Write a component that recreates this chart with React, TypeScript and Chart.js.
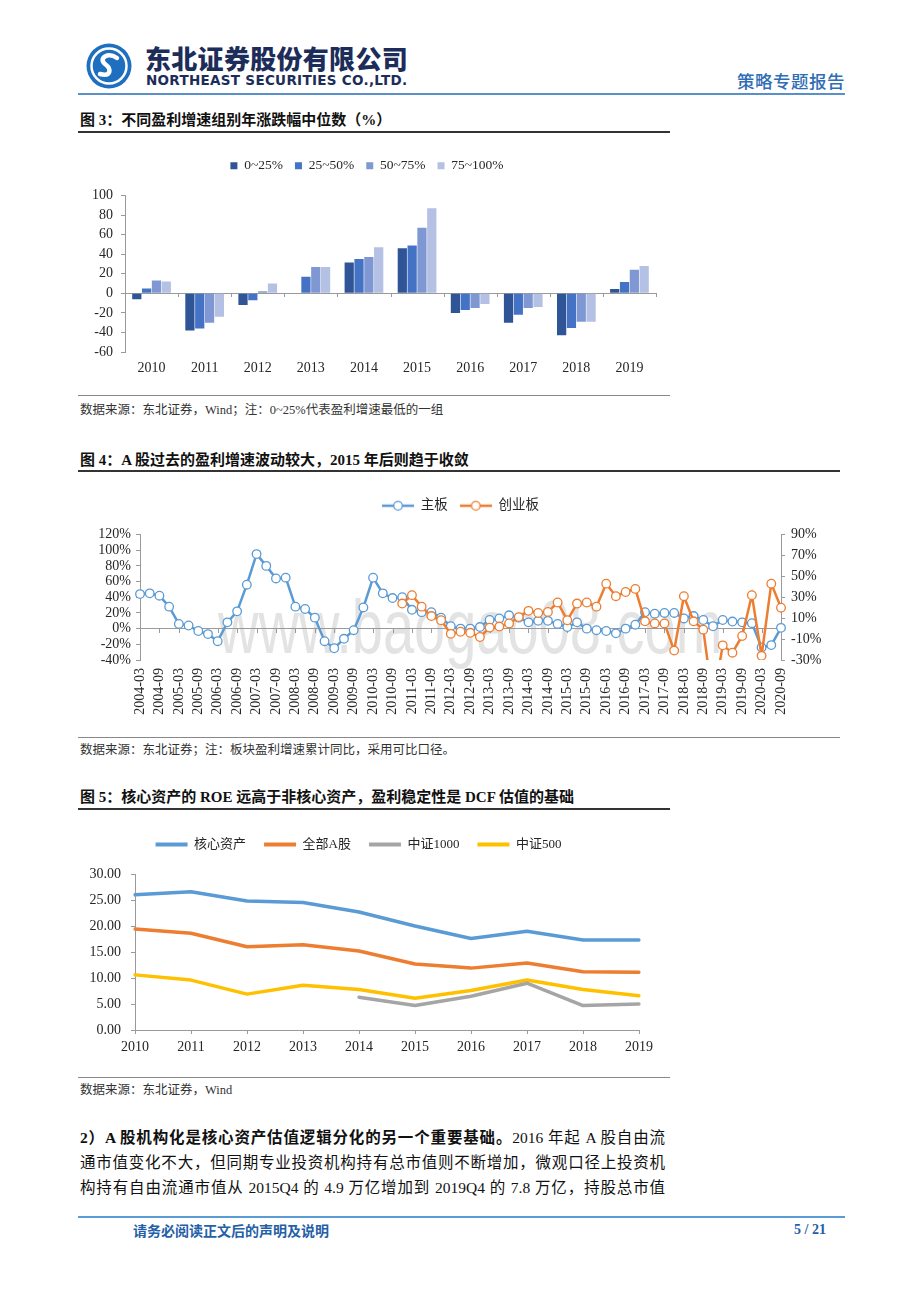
import React, { useEffect, useRef } from 'react';
import { Chart, registerables } from 'chart.js';

Chart.register(...registerables);

const SERIF = "'Liberation Serif', 'Noto Sans CJK SC', serif";
const SANS_CJK = "'Noto Sans CJK SC', 'Liberation Sans', sans-serif";
const AXIS = '#9a9a9a';
const TEXT = '#262626';
const BLUE = '#5B9BD5';
const ORANGE = '#ED7D31';
const GRAY = '#A5A5A5';
const YELLOW = '#FFC000';

Chart.defaults.font.family = SERIF;
Chart.defaults.color = TEXT;

// ---------------- Figure 3 data ----------------
const fig3Years = ['2010', '2011', '2012', '2013', '2014', '2015', '2016', '2017', '2018', '2019'];
const fig3Names = ['0~25%', '25~50%', '50~75%', '75~100%'];
const fig3G1 = [-6, -38, -12, 0.5, 31.5, 46, -20, -30, -43, 4.5];
const fig3G2 = [5, -36, -7, 17, 35, 49, -17, -22, -35.5, 11.5];
const fig3G3 = [13, -30, 2, 27, 37, 67, -15, -15, -29, 24];
const fig3G4 = [12, -24, 10, 27, 47, 87, -11, -14, -29, 28];
const fig3Colors = ['#2F5597', '#4472C4', '#7F98D3', '#B4C0E4'];

// ---------------- Figure 4 data ----------------
const fig4Quarters = [
  '2004-03', '2004-06', '2004-09', '2004-12', '2005-03', '2005-06', '2005-09', '2005-12',
  '2006-03', '2006-06', '2006-09', '2006-12', '2007-03', '2007-06', '2007-09', '2007-12',
  '2008-03', '2008-06', '2008-09', '2008-12', '2009-03', '2009-06', '2009-09', '2009-12',
  '2010-03', '2010-06', '2010-09', '2010-12', '2011-03', '2011-06', '2011-09', '2011-12',
  '2012-03', '2012-06', '2012-09', '2012-12', '2013-03', '2013-06', '2013-09', '2013-12',
  '2014-03', '2014-06', '2014-09', '2014-12', '2015-03', '2015-06', '2015-09', '2015-12',
  '2016-03', '2016-06', '2016-09', '2016-12', '2017-03', '2017-06', '2017-09', '2017-12',
  '2018-03', '2018-06', '2018-09', '2018-12', '2019-03', '2019-06', '2019-09', '2019-12',
  '2020-03', '2020-06', '2020-09',
];
const fig4Main = [
  44, 45, 42, 28, 6, 4, -3, -7,
  -16, 8, 22, 56, 95, 80, 64, 65,
  28, 25, 14, -16, -25, -13, -2, 27,
  65, 45, 39, 40, 24, 21, 21, 14,
  3, 0, 0, 2, 11, 13, 17, 14,
  8, 10, 10, 6, 2, 8, 0, -2,
  -3, -6, 0, 5, 21, 19, 20, 20,
  13, 16, 11, 3, 11, 9, 8, 7,
  -24, -21, 1,
];
const fig4Gem = [
  null, null, null, null, null, null, null, null,
  null, null, null, null, null, null, null, null,
  null, null, null, null, null, null, null, null,
  null, null, null, 24, 32, 21, 12, 8,
  -5, -3, -4, -8, 1, 2, 5, 11,
  17, 15, 16, 25, 8, 24, 25, 21,
  43, 31, 35, 38, 7, 5, 5, -21,
  31, 7, -1, -70, -16, -23, -7, 32,
  -26, 43, 20,
];
const fig4RightTicks = [-30, -10, 10, 30, 50, 70, 90];

// ---------------- Figure 5 data ----------------
const fig5Years = ['2010', '2011', '2012', '2013', '2014', '2015', '2016', '2017', '2018', '2019'];
const fig5Core = [26.0, 26.6, 24.8, 24.5, 22.7, 20.0, 17.6, 19.0, 17.3, 17.3];
const fig5AllA = [19.4, 18.6, 16.0, 16.4, 15.2, 12.7, 11.9, 12.9, 11.2, 11.1];
const fig5Csi1000 = [null, null, null, null, 6.3, 4.7, 6.5, 9.0, 4.7, 5.0];
const fig5Csi500 = [10.6, 9.6, 6.9, 8.6, 7.8, 6.1, 7.6, 9.6, 7.8, 6.6];

// ---------------- helpers ----------------
const legendGap = (gap: number) => ({
  id: 'legendGap',
  beforeInit(chart: any) {
    const lg = chart.legend;
    if (!lg) return;
    const fit = lg.fit;
    lg.fit = function () {
      fit.call(this);
      this.height += gap;
    };
  },
});

const zeroTicks = (xs: (chart: any) => number[], yId: string) => ({
  id: 'zeroTicks',
  beforeDatasetsDraw(chart: any) {
    const y0 = chart.scales[yId].getPixelForValue(0);
    const ctx = chart.ctx;
    ctx.save();
    ctx.strokeStyle = AXIS;
    ctx.lineWidth = 1;
    ctx.beginPath();
    xs(chart).forEach((x) => {
      const px = Math.round(x) + 0.5;
      ctx.moveTo(px, Math.round(y0));
      ctx.lineTo(px, Math.round(y0) + 4);
    });
    ctx.stroke();
    ctx.restore();
  },
});

const zeroGrid = (ctx: any) => (ctx.tick && ctx.tick.value === 0 ? AXIS : 'rgba(0,0,0,0)');
const tickFont = { family: SERIF, size: 14 };

function makeLegendMarker(color: string) {
  const c = document.createElement('canvas');
  c.width = 32;
  c.height = 12;
  const g = c.getContext('2d')!;
  g.strokeStyle = color;
  g.lineWidth = 2.5;
  g.beginPath();
  g.moveTo(0, 6);
  g.lineTo(32, 6);
  g.stroke();
  g.beginPath();
  g.arc(16, 6, 4.3, 0, Math.PI * 2);
  g.fillStyle = '#fff';
  g.fill();
  g.lineWidth = 1.3;
  g.stroke();
  return c;
}

function fig3Config(): any {
  const series = [fig3G1, fig3G2, fig3G3, fig3G4];
  return {
    type: 'bar',
    data: {
      labels: fig3Years,
      datasets: series.map((d, i) => ({
        label: fig3Names[i],
        data: d,
        backgroundColor: fig3Colors[i],
        borderWidth: 0,
        categoryPercentage: 0.74,
        barPercentage: 0.94,
      })),
    },
    options: {
      animation: false,
      responsive: true,
      maintainAspectRatio: false,
      layout: { padding: { right: 22 } },
      plugins: {
        legend: {
          position: 'top',
          labels: { boxWidth: 7, boxHeight: 7, padding: 12, color: TEXT, font: { family: SERIF, size: 13.5 } },
        },
        tooltip: { enabled: false },
      },
      scales: {
        x: {
          grid: { display: false, drawTicks: false },
          border: { display: false },
          ticks: { color: TEXT, font: tickFont, padding: 8 },
          afterFit: (s: any) => { s.height = 33; },
        },
        y: {
          min: -60,
          max: 100,
          ticks: { stepSize: 20, autoSkip: false, color: TEXT, font: tickFont, padding: 8 },
          grid: { color: zeroGrid, tickColor: AXIS, tickLength: 4 },
          border: { display: true, color: AXIS },
          afterFit: (s: any) => { s.width = 47; },
        },
      },
    },
    plugins: [
      legendGap(13),
      zeroTicks((chart) => {
        const s = chart.scales.x;
        const n = fig3Years.length;
        const out: number[] = [];
        for (let i = 0; i <= n; i++) out.push(s.left + ((s.right - s.left) * i) / n);
        return out;
      }, 'y'),
    ],
  };
}

function fig4Config(): any {
  const markers = [makeLegendMarker(BLUE), makeLegendMarker(ORANGE)];
  const lineStyle = (color: string) => ({
    borderColor: color,
    backgroundColor: '#fff',
    borderWidth: 2.5,
    pointRadius: 4.3,
    pointBackgroundColor: '#fff',
    pointBorderColor: color,
    pointBorderWidth: 1.3,
    tension: 0,
  });
  return {
    type: 'line',
    data: {
      labels: fig4Quarters,
      datasets: [
        { label: '主板', data: fig4Main, yAxisID: 'y', order: 2, ...lineStyle(BLUE) },
        { label: '创业板', data: fig4Gem, yAxisID: 'y1', order: 1, ...lineStyle(ORANGE) },
      ],
    },
    options: {
      animation: false,
      responsive: true,
      maintainAspectRatio: false,
      plugins: {
        legend: {
          position: 'top',
          labels: {
            usePointStyle: true,
            pointStyleWidth: 32,
            padding: 12,
            color: TEXT,
            font: { family: SERIF, size: 13.5 },
            sort: (a: any, b: any) => a.datasetIndex - b.datasetIndex,
            generateLabels: (chart: any) =>
              Chart.defaults.plugins.legend.labels.generateLabels(chart).map((l: any) => ({
                ...l,
                pointStyle: markers[l.datasetIndex],
              })),
          },
        },
        tooltip: { enabled: false },
      },
      scales: {
        x: {
          offset: false,
          grid: { display: false, drawTicks: false },
          border: { display: false },
          ticks: {
            autoSkip: false,
            maxRotation: 90,
            minRotation: 90,
            color: TEXT,
            font: tickFont,
            padding: 8,
            callback: function (this: any, v: any, i: number) {
              return i % 2 === 0 ? fig4Quarters[i] : '';
            },
          },
          afterFit: (s: any) => { s.height = 68; },
        },
        y: {
          position: 'left',
          min: -40,
          max: 120,
          ticks: { stepSize: 20, autoSkip: false, color: TEXT, font: tickFont, padding: 5, callback: (v: any) => v + '%' },
          grid: { color: zeroGrid, tickColor: AXIS, tickLength: 4 },
          border: { display: true, color: AXIS },
          afterFit: (s: any) => { s.width = 62; },
        },
        y1: {
          position: 'right',
          min: -30,
          max: 90,
          afterBuildTicks: (s: any) => { s.ticks = fig4RightTicks.map((v) => ({ value: v })); },
          ticks: { autoSkip: false, color: TEXT, font: tickFont, padding: 6, callback: (v: any) => v + '%' },
          grid: { drawOnChartArea: false, color: AXIS, tickLength: 4 },
          border: { display: true, color: AXIS },
          afterFit: (s: any) => { s.width = 62; },
        },
      },
    },
    plugins: [
      legendGap(12),
      zeroTicks((chart) => {
        const s = chart.scales.x;
        const out: number[] = [];
        fig4Quarters.forEach((_, i) => { if (i % 2 === 0) out.push(s.getPixelForValue(i)); });
        return out;
      }, 'y'),
    ],
  };
}

function fig5Config(): any {
  const ln = (label: string, data: any[], color: string) => ({
    label,
    data,
    borderColor: color,
    backgroundColor: color,
    borderWidth: 3.5,
    pointRadius: 0,
    tension: 0,
    borderJoinStyle: 'round',
    borderCapStyle: 'round',
  });
  return {
    type: 'line',
    data: {
      labels: fig5Years,
      datasets: [
        ln('核心资产', fig5Core, BLUE),
        ln('全部A股', fig5AllA, ORANGE),
        ln('中证1000', fig5Csi1000, GRAY),
        ln('中证500', fig5Csi500, YELLOW),
      ],
    },
    options: {
      animation: false,
      responsive: true,
      maintainAspectRatio: false,
      layout: { padding: { right: 39 } },
      plugins: {
        legend: {
          position: 'top',
          labels: {
            boxWidth: 32,
            boxHeight: 4,
            padding: 18,
            color: TEXT,
            font: { family: SERIF, size: 13 },
            generateLabels: (chart: any) =>
              Chart.defaults.plugins.legend.labels.generateLabels(chart).map((l: any) => ({ ...l, lineWidth: 0 })),
          },
        },
        tooltip: { enabled: false },
      },
      scales: {
        x: {
          offset: false,
          grid: { drawOnChartArea: false, color: AXIS, tickLength: 4 },
          border: { display: true, color: AXIS },
          ticks: { color: TEXT, font: tickFont, padding: 5 },
          afterFit: (s: any) => { s.height = 35; },
        },
        y: {
          min: 0,
          max: 30,
          ticks: { stepSize: 5, autoSkip: false, color: TEXT, font: tickFont, padding: 10, callback: (v: any) => Number(v).toFixed(2) },
          grid: { drawOnChartArea: false, color: AXIS, tickLength: 4 },
          border: { display: true, color: AXIS },
          afterFit: (s: any) => { s.width = 57; },
        },
      },
    },
    plugins: [legendGap(13)],
  };
}

function ChartBox({ left, top, width, height, make }: any) {
  const ref = useRef<HTMLCanvasElement | null>(null);
  useEffect(() => {
    if (!ref.current) return;
    const chart = new Chart(ref.current, make());
    return () => chart.destroy();
  }, []);
  return (
    <div style={{ position: 'absolute', left, top, width, height, zIndex: 1 }}>
      <canvas ref={ref} />
    </div>
  );
}

function T({ x, y, size = 14, weight = 400, color = TEXT, family = SERIF, right, children, style }: any) {
  const lh = Math.round(size * 1.3);
  const pos: any = { position: 'absolute', top: y - lh / 2, lineHeight: lh + 'px', fontSize: size, fontWeight: weight, color, fontFamily: family, whiteSpace: 'nowrap', zIndex: 2 };
  if (right !== undefined) pos.right = 920 - right;
  else pos.left = x;
  return <div style={{ ...pos, ...style }}>{children}</div>;
}

function HLine({ x1, x2, y, h = 1, color = '#888' }: any) {
  return <div style={{ position: 'absolute', left: x1, top: y, width: x2 - x1, height: h, background: color }} />;
}

function Para({ y, children }: any) {
  return (
    <div
      style={{
        position: 'absolute',
        left: 80,
        top: y - 12.5,
        width: 585,
        height: 25,
        lineHeight: '25px',
        fontSize: 15.5,
        fontFamily: SERIF,
        color: '#111',
        textAlign: 'justify',
        textAlignLast: 'justify' as any,
      }}
    >
      {children}
    </div>
  );
}

export default function App() {
  return (
    <div style={{ position: 'absolute', left: 0, top: 0, width: 920, height: 1302, background: '#fff', fontFamily: SERIF, overflow: 'hidden' }}>
      {/* Header */}
      <svg style={{ position: 'absolute', left: 86, top: 43 }} width="46" height="46" viewBox="0 0 46 46">
        <circle cx="23" cy="23" r="22.5" fill="#1f6fc1" />
        <circle cx="23" cy="23" r="17.5" fill="none" stroke="#fff" strokeWidth="2.5" />
        <path d="M31 15 C 22 9, 12 15, 19 21 C 26 26, 25 34, 14 31" stroke="#fff" strokeWidth="4.5" fill="none" strokeLinecap="round" />
      </svg>
      <T x={145} y={58} size={26} weight={900} color="#1c2d5a" family={SANS_CJK} style={{ letterSpacing: 0.3 }}>东北证券股份有限公司</T>
      <T x={146} y={80} size={13.5} weight={700} color="#1c2d5a" family="'DejaVu Sans', sans-serif" style={{ letterSpacing: 0.3 }}>NORTHEAST SECURITIES CO.,LTD.</T>
      <T right={845} y={80} size={17.5} weight={500} color="#2f6db5" family={SANS_CJK} style={{ letterSpacing: 0.5 }}>策略专题报告</T>
      <HLine x1={78} x2={845} y={93} h={1.5} color="#5a8fca" />

      {/* Figure 3 */}
      <T x={80} y={120} size={15} weight={700} color="#111">图 3：不同盈利增速组别年涨跌幅中位数（%）</T>
      <HLine x1={78} x2={670} y={131} h={1.5} color="#333" />
      <ChartBox left={78} top={147} width={600} height={238} make={fig3Config} />
      <HLine x1={78} x2={670} y={395} h={1} color="#888" />
      <T x={80} y={410} size={12.5} color="#333">数据来源：东北证券，Wind；注：0~25%代表盈利增速最低的一组</T>

      {/* Figure 4 */}
      <T x={80} y={460} size={15} weight={700} color="#111">图 4：A 股过去的盈利增速波动较大，2015 年后则趋于收敛</T>
      <HLine x1={78} x2={840} y={470} h={1.5} color="#333" />
      <div
        style={{
          position: 'absolute',
          left: 218,
          top: 580,
          fontFamily: "'Liberation Sans', sans-serif",
          fontSize: 56,
          lineHeight: '70px',
          color: '#e3e3e3',
          transform: 'scaleY(1.35)',
          transformOrigin: 'left top',
          whiteSpace: 'nowrap',
          zIndex: 0,
        }}
      >
        www.baogao08.com
      </div>
      <ChartBox left={78} top={487} width={765} height={241} make={fig4Config} />
      <HLine x1={78} x2={840} y={737} h={1} color="#888" />
      <T x={80} y={750} size={12.5} color="#333">数据来源：东北证券；注：板块盈利增速累计同比，采用可比口径。</T>

      {/* Figure 5 */}
      <T x={80} y={797} size={15} weight={700} color="#111">图 5：核心资产的 ROE 远高于非核心资产，盈利稳定性是 DCF 估值的基础</T>
      <HLine x1={78} x2={670} y={808} h={1.5} color="#333" />
      <ChartBox left={78} top={820} width={600} height={245} make={fig5Config} />
      <HLine x1={78} x2={670} y={1077} h={1} color="#888" />
      <T x={80} y={1090} size={12.5} color="#333">数据来源：东北证券，Wind</T>

      {/* Paragraph */}
      <Para y={1137}>
        <b>2）A 股机构化是核心资产估值逻辑分化的另一个重要基础。</b>2016 年起 A 股自由流
      </Para>
      <Para y={1162}>通市值变化不大，但同期专业投资机构持有总市值则不断增加，微观口径上投资机</Para>
      <Para y={1187}>构持有自由流通市值从 2015Q4 的 4.9 万亿增加到 2019Q4 的 7.8 万亿，持股总市值</Para>

      {/* Footer */}
      <HLine x1={78} x2={845} y={1216} h={1.5} color="#5b9bd5" />
      <T x={133} y={1230} size={14} weight={700} color="#2460a7" family={SANS_CJK}>请务必阅读正文后的声明及说明</T>
      <T right={826} y={1230} size={14} weight={700} color="#2460a7">5 / 21</T>
    </div>
  );
}
